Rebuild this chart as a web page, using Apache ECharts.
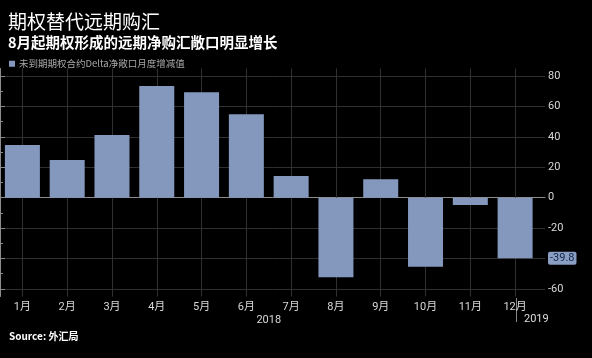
<!DOCTYPE html>
<html>
<head>
<meta charset="utf-8">
<script src="https://cdn.jsdelivr.net/npm/echarts@6/dist/echarts.min.js"></script>
<style>
html,body{margin:0;padding:0;background:#000;}
#chart{width:592px;height:358px;}
</style>
</head>
<body>
<div id="chart"></div>
<script>
const months = ['1月','2月','3月','4月','5月','6月','7月','8月','9月','10月','11月','12月'];
const deltaValues = [34.7, 24.8, 41.2, 73.5, 69.3, 54.9, 14.3, -52.4, 12.1, -45.4, -4.8, -39.8];
const yearLabels = ['2018'];
const lastValue = -39.8;
const titleText = '期权替代远期购汇';
const subtitleText = '8月起期权形成的远期净购汇敞口明显增长';
const seriesName = '未到期期权合约Delta净敞口月度增减值';
const sourceText = 'Source: 外汇局';

const CJK = '"Noto Sans CJK SC", "Noto Sans", sans-serif';
const gridLine = '#303030';
const axisCol = '#8c8c8c';
const barCol = '#8498be';

const chart = echarts.init(document.getElementById('chart'));
chart.setOption({
  backgroundColor: '#000',
  animation: false,
  textStyle: {fontFamily: CJK},
  title: [
    {text: titleText, left: 3, top: 7, textStyle: {color: '#fff', fontSize: 19, fontWeight: 'normal', fontFamily: CJK}},
    {text: subtitleText, left: 3, top: 30, textStyle: {color: '#fff', fontSize: 14.5, fontWeight: 'bold', fontFamily: CJK}},
    {text: sourceText, left: 4, top: 326, textStyle: {color: '#fff', fontSize: 10, fontWeight: 'bold', fontFamily: CJK}},
    {text: '2019', left: 519, top: 309, textStyle: {color: '#ddd', fontSize: 11, fontWeight: 'normal', fontFamily: 'Roboto, sans-serif'}}
  ],
  legend: {
    left: 4, top: 54, itemWidth: 6, itemHeight: 6, itemGap: 4,
    icon: 'rect',
    textStyle: {color: '#a8a8a8', fontSize: 9.5, fontFamily: CJK, padding: [0,0,0,-1]},
    data: [seriesName]
  },
  graphic: [
    {type: 'line', shape: {x1: 516.5, y1: 298, x2: 516.5, y2: 322}, style: {stroke: '#888', lineWidth: 1}}
  ],
  grid: [
    {left: -2.5, right: 47, top: 68.5, bottom: 61.5},
    {left: -2.5, right: 47, top: 76.1, height: 212.8},
    {left: -2.5, right: 54.5, top: 68.5, bottom: 61.5}
  ],
  xAxis: [
    {gridIndex: 0, type: 'value', min: 0, max: 1, axisLine: {show: true, lineStyle: {color: axisCol}}, axisTick: {show: false}, axisLabel: {show: false}, splitLine: {show: false}},
    {gridIndex: 1, type: 'value', min: 0, max: 1, show: false},
    {gridIndex: 2, type: 'category', data: months, boundaryGap: true,
      axisLine: {show: false}, axisTick: {show: false},
      axisLabel: {color: '#d8d8d8', fontSize: 11, margin: 5, fontFamily: 'Roboto, "Noto Sans CJK SC", sans-serif'},
      splitLine: {show: false}},
    {gridIndex: 2, type: 'category', data: yearLabels, position: 'bottom',
      axisLine: {show: false}, axisTick: {show: false}, splitLine: {show: false},
      axisLabel: {color: '#d8d8d8', fontSize: 11, margin: 18, fontFamily: 'Roboto, sans-serif'}}
  ],
  yAxis: [
    {gridIndex: 0, type: 'value', min: -65, max: 85, position: 'right',
      axisLine: {show: true, lineStyle: {color: axisCol}}, axisTick: {show: false}, axisLabel: {show: false}, splitLine: {show: false}},
    {gridIndex: 1, type: 'value', min: -60, max: 80, interval: 20, position: 'right',
      axisLine: {show: false},
      axisTick: {show: true, length: 5, lineStyle: {color: axisCol}},
      minorTick: {show: true, splitNumber: 2, length: 3, lineStyle: {color: axisCol}},
      axisLabel: {color: '#d8d8d8', fontSize: 11, margin: 3, fontFamily: 'Roboto, sans-serif'},
      splitLine: {show: true, lineStyle: {color: gridLine, width: 1}},
      axisPointer: {show: true, value: lastValue, status: 'show', triggerTooltip: false, snap: false,
        type: 'line', lineStyle: {opacity: 0},
        label: {show: true, precision: 1, margin: 3, backgroundColor: '#8a9dc3', color: '#14254a', fontSize: 11, padding: [1, 2, 1, 2], borderRadius: 2, fontFamily: 'Roboto, sans-serif'}}},
    {gridIndex: 2, type: 'value', min: -65, max: 85, show: false, splitLine: {show: false}}
  ],
  series: [
    {name: seriesName, type: 'bar', xAxisIndex: 2, yAxisIndex: 2, data: deltaValues,
      barWidth: 35, itemStyle: {color: barCol}, z: 3,
      markLine: {
        silent: true, symbol: 'none', z: 1, animation: false,
        label: {show: false},
        lineStyle: {color: gridLine, type: 'solid', width: 1},
        emphasis: {disabled: true},
        data: months.map(m => ({xAxis: m}))
      }}
  ]
});
</script>
</body>
</html>
